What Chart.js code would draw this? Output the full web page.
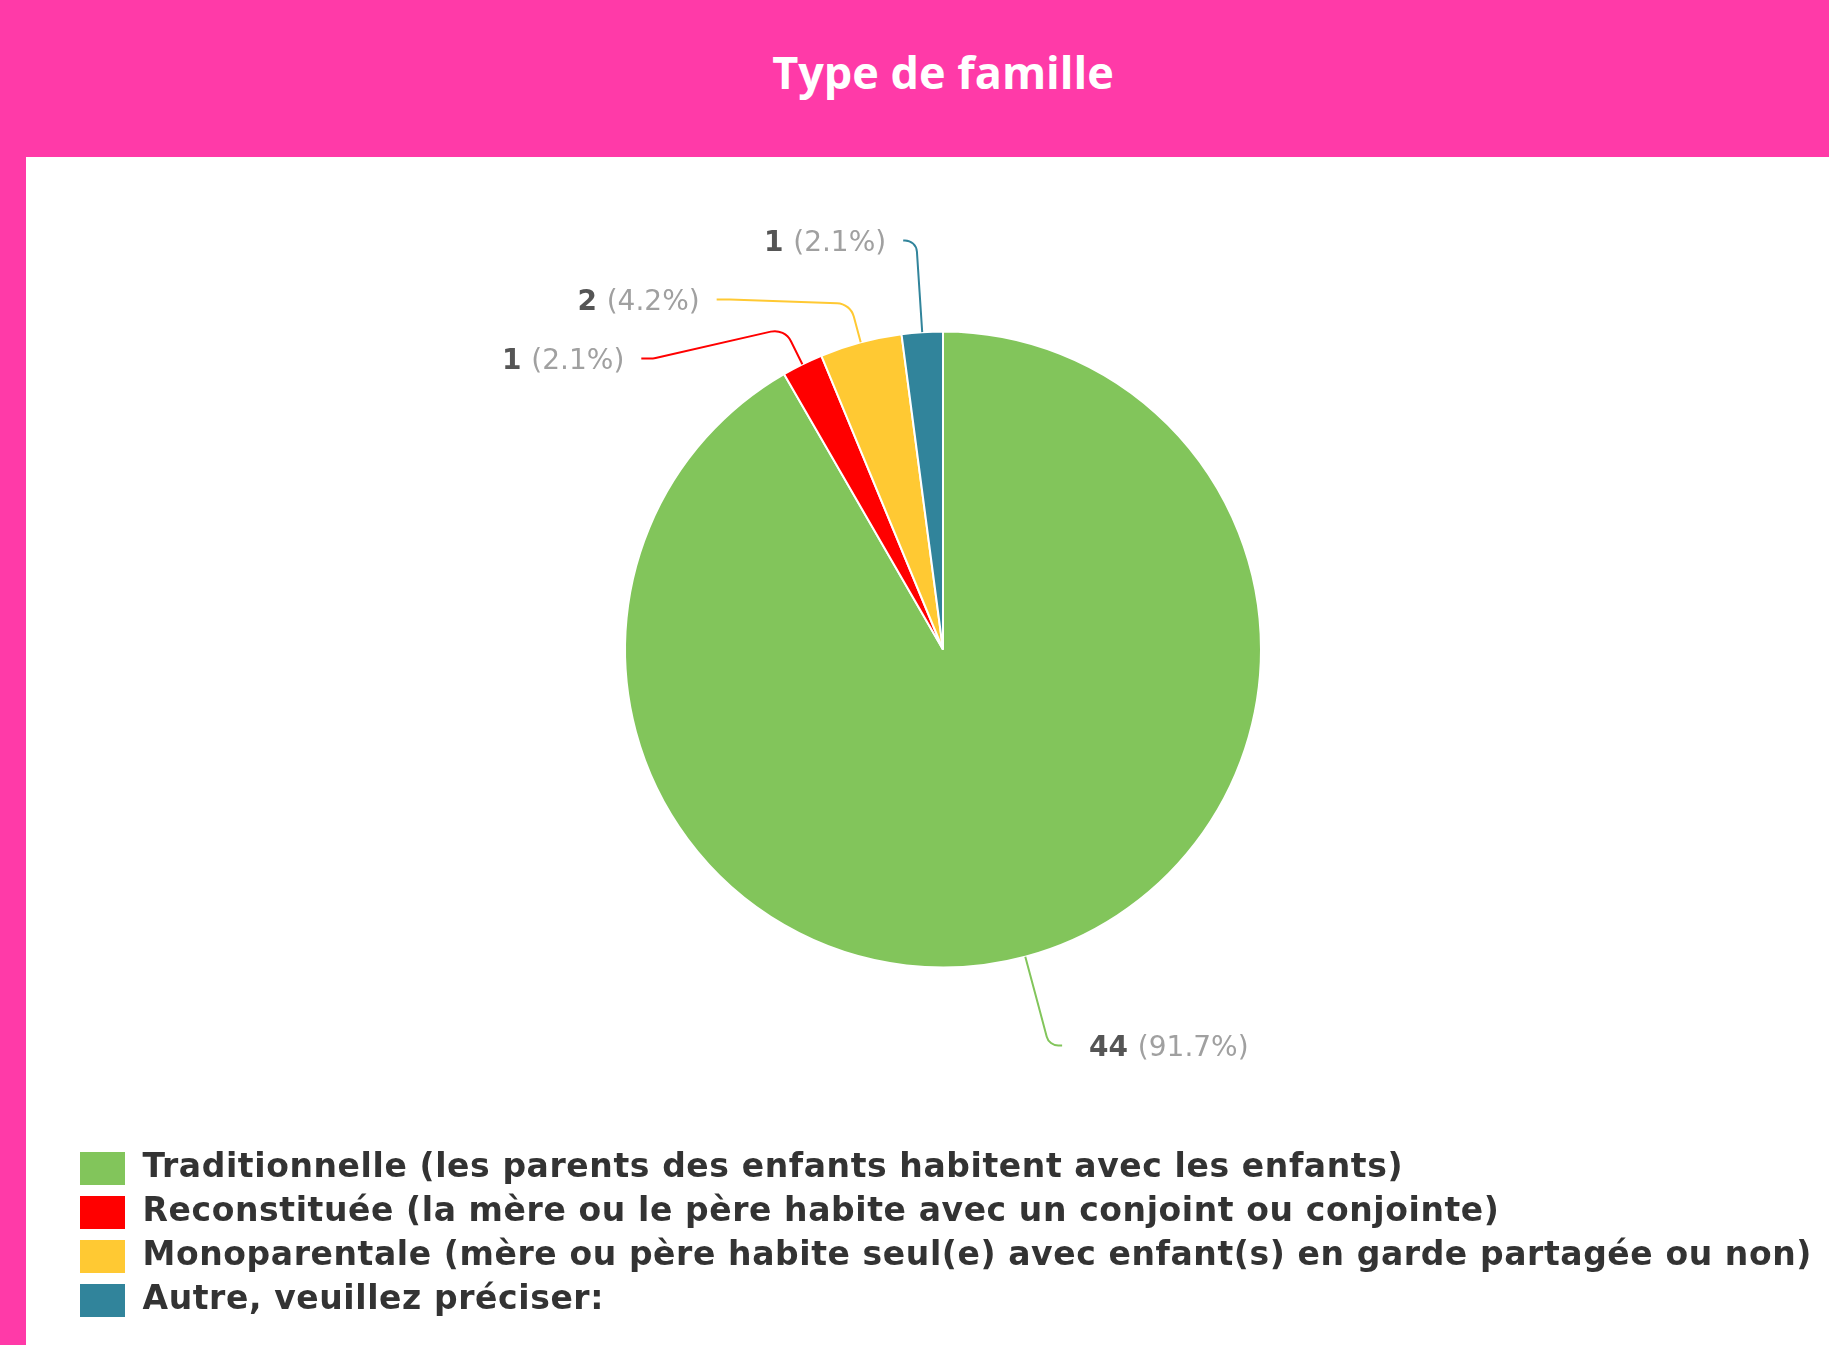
<!DOCTYPE html>
<html>
<head>
<meta charset="utf-8">
<script src="https://cdn.jsdelivr.net/npm/chart.js@4.4.0/dist/chart.umd.min.js"></script>
<style>
  html, body { margin: 0; padding: 0; }
  body { width: 1829px; height: 1345px; background: #ff3aa8; position: relative; overflow: hidden; }
  #header {
    position: absolute; left: 57px; right: 0; top: 0; height: 144px; line-height: 144px;
    text-align: center; color: #fff; font-family: 'Open Sans'; font-weight: bold; font-size: 45px;
  }
  #panel { position: absolute; left: 26px; top: 157px; width: 1803px; height: 1188px; background: #fff; }
  #myChart { display: block; }
</style>
</head>
<body>
<div id="header">Type de famille</div>
<div id="panel"><canvas id="myChart" width="1803" height="1188"></canvas></div>
<script>
// 데이터
const categories = [
    'Traditionnelle (les parents des enfants habitent avec les enfants)',
    'Reconstituée (la mère ou le père habite avec un conjoint ou conjointe)',
    'Monoparentale (mère ou père habite seul(e) avec enfant(s) en garde partagée ou non)',
    'Autre, veuillez préciser:'
];
const counts = [44, 1, 2, 1];
const sliceColors = ['#82c55b', '#ff0000', '#ffc933', '#31849b'];

// 바깥 라벨 설정
const LABEL_RADIUS = 410;
const ELBOW_OFFSET = 40;
const LABEL_GAP = 59;
const HOOK = 13;

// 범례 글자 간격 (폭 맞추기)
const legendSpacing = {
    id: 'legendSpacing',
    beforeLayout(chart) { chart.ctx.letterSpacing = '0.6px'; },
    beforeDraw(chart) { chart.ctx.letterSpacing = '0.6px'; }
};

// 조각 바깥쪽에 값과 비율을 그리는 플러그인
const outsideLabels = {
    id: 'outsideLabels',
    afterDatasetsDraw(chart) {
        const ctx = chart.ctx;
        const meta = chart.getDatasetMeta(0);
        const values = chart.data.datasets[0].data;
        const colors = chart.data.datasets[0].backgroundColor;
        const total = values.reduce((a, b) => a + b, 0);

        const items = meta.data.map((arc, i) => {
            const p = arc.getProps(['x', 'y', 'startAngle', 'endAngle', 'outerRadius'], true);
            const mid = (p.startAngle + p.endAngle) / 2;
            const cos = Math.cos(mid), sin = Math.sin(mid);
            return { i, cx: p.x, cy: p.y, cos, sin, r: p.outerRadius, left: cos < 0, y: p.y + sin * LABEL_RADIUS };
        });

        // 같은 쪽 라벨끼리 겹치지 않게 세로로 벌리기
        [true, false].forEach(side => {
            const group = items.filter(it => it.left === side).sort((a, b) => a.y - b.y);
            for (let k = 1; k < group.length; k++) {
                if (group[k].y < group[k - 1].y + LABEL_GAP) group[k].y = group[k - 1].y + LABEL_GAP;
            }
        });

        ctx.save();
        ctx.letterSpacing = '0px';
        items.forEach(it => {
            const dir = it.left ? -1 : 1;
            const start = { x: it.cx + it.cos * it.r, y: it.cy + it.sin * it.r };
            const elbow = { x: it.cx + it.cos * (it.r + ELBOW_OFFSET), y: it.cy + it.sin * (it.r + ELBOW_OFFSET) };
            const dy = Math.min(Math.abs(it.y - it.cy), LABEL_RADIUS);
            const knee = { x: it.cx + dir * Math.sqrt(LABEL_RADIUS * LABEL_RADIUS - dy * dy), y: it.y };
            const end = { x: knee.x + dir * HOOK, y: it.y };

            ctx.beginPath();
            ctx.moveTo(start.x, start.y);
            ctx.arcTo(elbow.x, elbow.y, knee.x, knee.y, 18);
            ctx.arcTo(knee.x, knee.y, end.x, end.y, 12);
            ctx.lineTo(end.x, end.y);
            ctx.strokeStyle = colors[it.i];
            ctx.lineWidth = 2;
            ctx.stroke();

            const num = String(values[it.i]);
            const pct = '(' + (values[it.i] / total * 100).toFixed(1) + '%)';
            ctx.textBaseline = 'middle';
            ctx.textAlign = 'left';
            ctx.font = 'bold 28px "DejaVu Sans"';
            const wNum = ctx.measureText(num + ' ').width;
            ctx.font = '28px "DejaVu Sans"';
            const wPct = ctx.measureText(pct).width;
            const x0 = it.left ? end.x - 17 - wNum - wPct : end.x + 27;
            const ty = end.y + 3;
            ctx.font = 'bold 28px "DejaVu Sans"';
            ctx.fillStyle = '#555';
            ctx.fillText(num, x0, ty);
            ctx.font = '28px "DejaVu Sans"';
            ctx.fillStyle = '#a0a0a0';
            ctx.fillText(pct, x0 + wNum, ty);
        });
        ctx.restore();
    }
};

const ctx = document.getElementById('myChart').getContext('2d');
const myChart = new Chart(ctx, {
    type: 'pie',
    data: {
        labels: categories,
        datasets: [{
            data: counts,
            backgroundColor: sliceColors,
            borderColor: '#ffffff',
            borderWidth: 2,
            radius: 318
        }]
    },
    options: {
        responsive: false,
        animation: false,
        devicePixelRatio: 1,
        layout: {
            padding: { left: 44, right: 13, top: 0, bottom: 17 }
        },
        plugins: {
            tooltip: { enabled: false },
            legend: {
                display: true,
                position: 'bottom',
                align: 'start',
                labels: {
                    boxWidth: 47,
                    boxHeight: 35,
                    padding: 9,
                    color: '#333',
                    font: { family: 'DejaVu Sans', weight: 'bold', size: 33 }
                }
            }
        }
    },
    plugins: [legendSpacing, outsideLabels]
});
</script>
</body>
</html>
